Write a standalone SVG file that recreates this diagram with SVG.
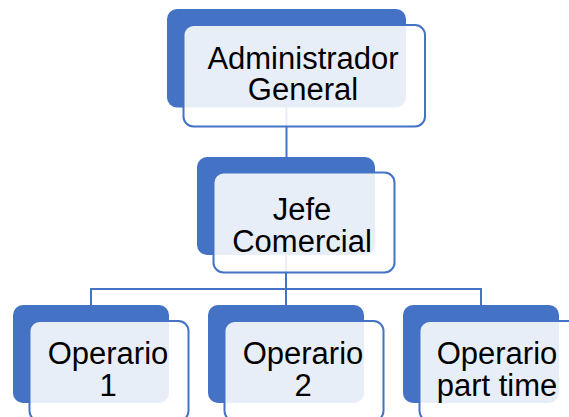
<svg xmlns="http://www.w3.org/2000/svg" width="569" height="417" viewBox="0 0 569 417">
  <style>
    .back { fill: #4472C4; }
    .front { fill: #FFFFFF; fill-opacity: 0.88; stroke: #4472C4; stroke-width: 2; }
    .conn { fill: none; stroke: #4472C4; stroke-width: 2; }
    .lbl { font-family: "Liberation Sans", Arial, sans-serif; font-size: 31px; fill: #000000; text-anchor: middle; }
  </style>
  <rect width="569" height="417" fill="#FFFFFF"/>
  <g id="connectors">
    <path class="conn" d="M286.5,107 V157"/>
    <path class="conn" d="M286,255 V289"/>
    <path class="conn" d="M91,305 V289 H481 V305"/>
    <path class="conn" d="M286,289 V305"/>
  </g>
  <g id="node-admin">
    <rect class="back" x="167" y="9" width="239" height="98.5" rx="10"/>
    <rect class="front" x="183.5" y="25" width="241.5" height="101.5" rx="10"/>
    <text class="lbl" x="303" y="68.5">Administrador</text>
    <text class="lbl" x="303" y="99.5">General</text>
  </g>
  <g id="node-jefe">
    <rect class="back" x="197" y="157" width="178" height="98" rx="10"/>
    <rect class="front" x="213.5" y="172.5" width="181" height="100" rx="10"/>
    <text class="lbl" x="302" y="220">Jefe</text>
    <text class="lbl" x="302" y="251.5">Comercial</text>
  </g>
  <g id="node-op1">
    <rect class="back" x="13" y="305" width="156" height="98" rx="10"/>
    <rect class="front" x="29.5" y="321" width="159" height="100" rx="10"/>
    <text class="lbl" x="108" y="363.5">Operario</text>
    <text class="lbl" x="108" y="396">1</text>
  </g>
  <g id="node-op2">
    <rect class="back" x="208" y="305" width="156" height="98" rx="10"/>
    <rect class="front" x="224.5" y="321" width="159" height="100" rx="10"/>
    <text class="lbl" x="303" y="363.5">Operario</text>
    <text class="lbl" x="303" y="396">2</text>
  </g>
  <g id="node-parttime">
    <rect class="back" x="403" y="305" width="156" height="98" rx="10"/>
    <rect class="front" x="419.5" y="321" width="159" height="100" rx="10"/>
    <text class="lbl" x="497" y="363.5">Operario</text>
    <text class="lbl" x="497" y="396">part time</text>
  </g>
</svg>
